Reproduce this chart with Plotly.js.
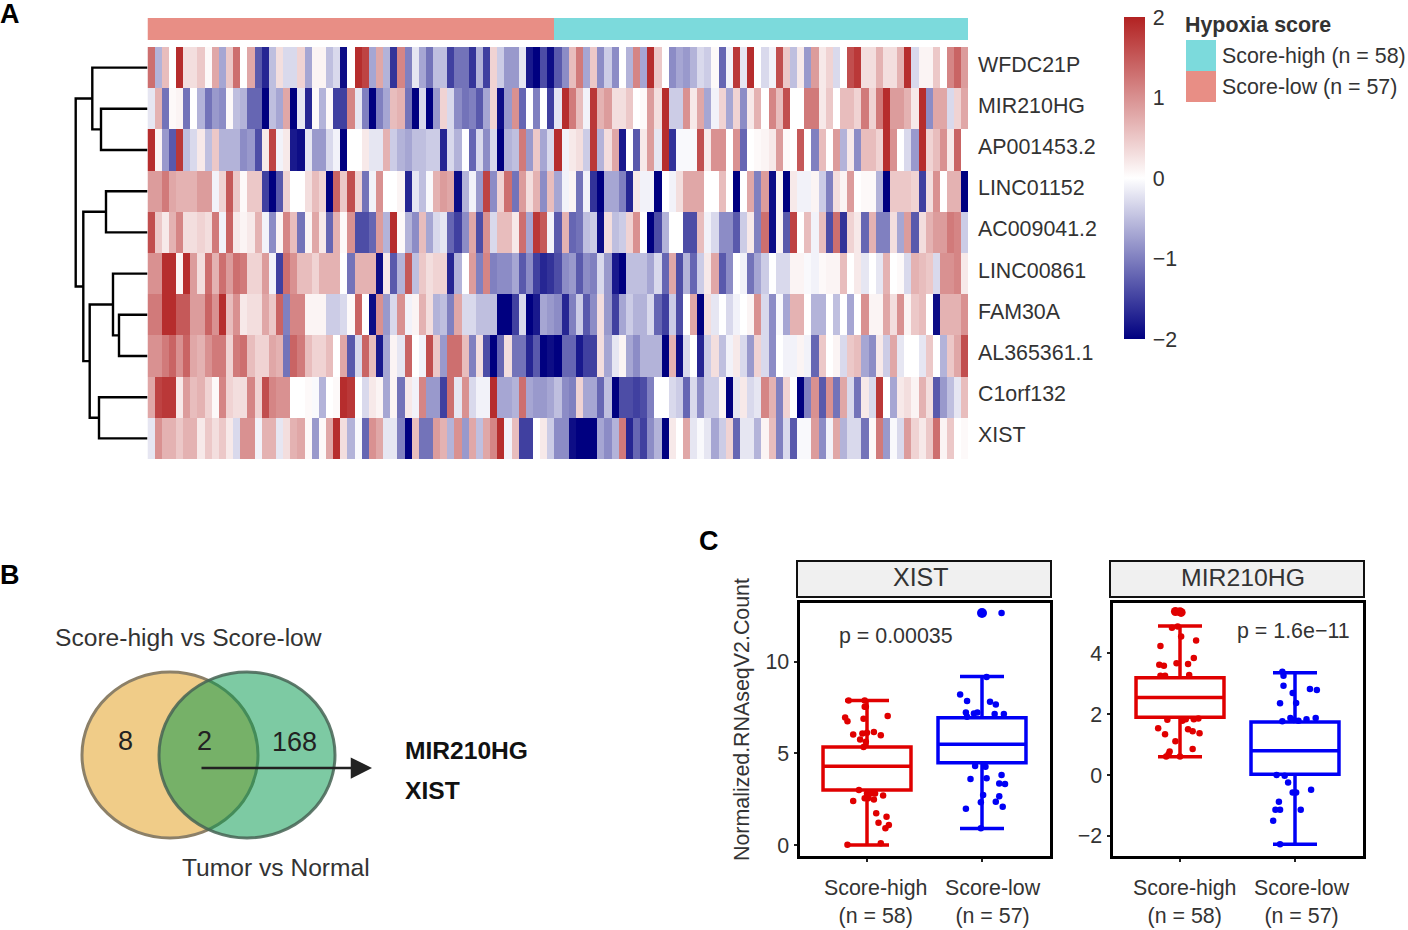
<!DOCTYPE html>
<html><head><meta charset="utf-8">
<script src="https://cdn.plot.ly/plotly-3.0.1.min.js"></script>
<style>html,body{margin:0;padding:0;background:#fff}#p{width:1408px;height:930px}</style>
</head><body><div id="p"></div>
<script>
const genes=["WFDC21P","MIR210HG","AP001453.2","LINC01152","AC009041.2","LINC00861","FAM30A","AL365361.1","C1orf132","XIST"];
const WFDC21P=[1.3,-.6,.6,0,1.9,.3,.3,.5,.05,.8,-.7,.5,1.3,0,.8,-1.3,-1.7,-.5,.3,-.3,-.3,.4,-.7,.1,.1,-.5,-.3,-1.9,0,1.9,1.7,-.7,.8,-.6,-1.6,1.1,-1,-.2,-.7,-1.1,-.5,-.5,-1.5,-1.1,-1.1,-1.6,-.6,-1.5,.4,-.4,-.8,-.8,-.2,-1.8,-2,-1.4,-1.9,
-1.3,-.9,.6,1.2,-.7,.5,-.9,-.4,-.9,0,-.6,1.1,-.7,1.9,.5,0,-.9,-.7,-.8,-.6,-.3,-.4,.05,-1.2,-.1,1.8,-.2,1.9,0,-.3,-.1,1.6,.5,-.5,.2,-.8,.9,.2,.4,-.3,0,1.6,1.8,.3,.3,.7,.3,.3,.7,1.9,-.3,.1,.1,.5,0,1.1,1.4,.9];
const MIR210HG=[-.2,.7,-1.1,.05,.1,-1.1,0,-.6,-1.1,-.8,-.9,.05,-.5,-.6,-1.2,-1.2,-2,-.5,-.7,.8,-2,-.2,-1.7,.05,-.6,.05,-1.5,-1.5,1.1,-.2,-1,-2,-1,-.7,.6,.7,-1.1,-2,-.3,-2,-.8,.4,-.3,-.9,-1.1,-1,-1.3,-.7,.4,-1.9,-.8,1,-1.2,0,-1,0,-1.5,
-.2,1.9,1.2,.6,-.1,1.8,.7,.9,.3,.3,.5,0,.05,.9,.3,1.9,-.4,-.4,1,.2,.8,-.7,-.1,.4,-.7,.4,-.9,.2,.7,0,1.1,.6,1.6,0,0,1.2,1.2,.2,.5,0,.6,.6,.4,1.2,.4,1.2,1.9,.9,.9,.7,.2,1.9,-.9,.8,.8,-.3,.4,.8];
const AP001453_2=[1.9,.1,-.8,-1.3,1.8,-.5,-.3,.2,-.5,.5,-.6,-.6,-.6,-.9,-.8,-1.4,.2,1.7,-.1,.2,-1.8,-1.9,-.2,-.8,-.8,-.3,-.1,-2,0,0,.2,-.2,-.2,.7,-.4,-.6,-.7,-.5,-.5,-.4,-.4,-1.7,-.3,-.6,0,-1.2,-.3,-.9,-.3,-2,-.6,-.5,1.2,-.8,.5,-.7,-.3,
1.9,-.1,.2,.3,-.4,1.8,-.6,.3,.8,-1.8,0,-1.3,.2,.9,-.2,1.9,-1.6,-.05,-.05,-.05,1.6,.2,1,1,0,1,-1.2,0,.05,.1,.2,.9,.05,0,1.5,0,-1,.6,0,.9,-.6,.2,-.9,.6,.6,.4,1.9,1,0,-.3,-.8,1.9,.4,.6,1,.2,1.4];
const LINC01152=[.9,.9,1.2,.8,.7,.7,.7,.9,.9,-.1,.4,1.5,.5,.05,.5,.5,-1.5,-2,-1.3,.4,0,0,.3,.6,.4,-2,1.4,.5,1.6,.4,-1.1,-.1,1,0,0,.1,-1.7,-.2,-.5,-.05,.7,.9,.8,-1.9,-.6,-.1,-.8,1.7,-.9,.4,1.3,-1.1,.9,.3,.7,-.9,.6,
-.7,-.1,.1,-1.1,-.1,-1.6,-2,-.7,-.7,-1,-1.7,.2,-.1,-.1,-2,0,-.1,.3,.8,.8,.8,0,0,.6,0,-2,0,.8,-1,.9,-1.9,.1,-2,.2,-.1,-.1,.1,-.4,-1,.3,.1,.9,0,.05,.05,-.6,-2,.5,.5,.5,.4,-1.5,.3,1,0,.7,.7,-2];
const AC009041_2=[1.6,.5,.2,.7,1.1,.3,.3,.4,.3,1.2,-.1,1.4,.2,.1,.2,.7,-.1,-.9,.1,1.1,.6,-1.1,.1,.8,.2,-1.2,.7,.05,1,-1.4,-1.4,-1.2,.9,-.6,1.9,.05,-.6,-.9,.6,-.7,-.3,-.2,-1.2,-1.5,-.9,.8,-1.4,1,-.3,.6,.6,.2,1.3,-.7,1.8,1.5,-.1,
-1.3,.7,-1.2,-1.1,-.5,-.4,-1.9,.3,-.5,-.4,.4,1,0,-2,-1.4,-.6,0,0,-1.4,-1.4,.6,-.1,-.3,-.9,-.9,-1.3,-.4,.2,-1,1.3,-1.9,.1,-1.3,1.7,0,.6,-.1,.6,-1.4,1.3,-1.6,.4,.2,-1.2,.7,-1,-1,.3,-.7,.9,-1.3,.3,.7,.9,.9,1.2,1.1,-.4];
const LINC00861=[1,1,1.9,1.9,.1,1.9,.9,.3,1.3,.7,1.3,.9,1.3,1.2,.4,.4,.9,-.1,-1.5,1.3,1,.6,.6,.4,.7,.7,.7,0,-1.1,.7,.7,.7,-1.9,.2,-1.3,-.6,1.5,-.5,.5,.3,.4,.4,-1.7,-.6,0,.9,-1,1.1,-1,-.9,-.9,-.7,-1.3,-.9,-1.5,-1.7,-1.6,
-1.4,-.9,-.8,-1.3,-.9,-1,-.3,-.8,-1.8,-2,-.5,-.5,-.5,-.7,-.3,-1.2,.8,-1.4,-.6,-1.2,-.4,.2,.8,-1.3,-.9,0,-.1,-1.1,-.7,-.4,0,-.3,-.3,.1,.1,-.05,-.1,.05,.1,.1,.6,0,.2,-.2,0,-.2,.7,0,.05,-.3,.7,.6,.5,-.3,1,1,1.1,.2];
const FAM30A=[1.2,1.2,1.9,1.9,1.5,1.5,.9,.9,1.4,1,1.9,.6,1,.2,.3,.3,.8,.5,1.4,-1,1.1,1.1,.1,.1,.1,-.4,-.4,-.3,.05,1.4,0,-1.9,1,-.8,-.3,1,-.1,.1,.7,.3,-.6,-.5,-1,.8,-.3,-.3,-.5,-.5,-.5,-2,-2,-1.5,-.3,-2,-1.8,-.7,-.8,
-.9,-1.7,-1,-.4,-1.3,-.9,.3,-.8,-1.5,-.7,-.4,-.6,-.6,-.3,-1.2,-1.5,-.4,-1.4,0,.8,-2,.3,-.2,0,-.3,-.1,0,.1,1,-.3,-.9,-.05,-.7,.7,.7,0,-.6,-.6,0,-.5,0,-.7,0,1,.1,.1,.8,.3,1,.1,.5,.6,0,-1.9,.7,.7,.7,1];
const AL365361_1=[1,1,1.2,1.4,1,1.4,.8,.7,1,1.2,1.2,.4,1.2,1.3,.6,.4,.4,.8,.7,-1.1,1.4,1.2,.6,.4,.4,.6,0,.8,-1.3,-.3,1.4,.6,-1.8,-.7,.1,-.2,1.4,0,-.1,1.6,.5,-.8,1.3,1.3,.6,-1,.3,-1.4,-2,-1.2,.3,-1.1,-1.1,-1.7,-1.3,-2,-1.9,
-2,-1.2,-1.2,-1.8,-1.5,-1.5,.3,-.7,-.2,.1,-.7,-.9,-.6,-.6,-.6,-2,.7,-1.9,-.3,0,-1.7,-.4,.3,-.5,-.1,.2,-.3,-.8,.4,-.3,-.9,0,-.1,-.1,.1,-.1,-1.2,.5,0,.1,-.3,.5,.6,-.7,-.9,.2,-.4,.8,-.2,0,0,-.2,.5,0,-.6,.5,.8,1.6];
const C1orf132=[.8,1.7,1.8,1.8,.2,.9,.6,.7,.4,.05,1.1,.4,.3,.3,1.1,.4,1.6,1.1,1,1,0,0,.05,-.05,-.6,0,.05,1.9,1.8,0,-.3,.2,.1,-.7,.1,-1.1,.2,-.1,1.1,-.8,-.8,-1.5,1.3,-.2,1,-.3,-.1,-.1,1.9,-.7,-.7,-.6,1.3,-.7,-.8,-.8,-.7,
-.5,-.9,-1,.4,-.7,-.7,-1.2,-.5,-2,-1.4,-1.4,-1.5,-1.4,-1,0,0,-.3,-.4,-1.2,-.3,-.9,-.4,-.4,.1,-2,-.2,.2,-.3,-.2,1.1,.7,-1,.4,0,-2,-1,1,-1.3,1,-1.1,.8,-.3,-1.1,.2,-.3,1.8,0,-.7,.2,.3,.1,.7,.3,-1.3,-.8,-.5,-.2,.6];
const XIST_row=[-.2,1,.7,.7,.5,.7,.7,.2,.5,.3,.5,.2,-.3,1,1,-.1,.7,.7,-.2,.3,.7,.8,.05,-.8,.05,.8,1.9,.3,-.6,-.05,-1.2,1,.8,-.2,-.2,-1,-2,.6,-1.1,-1.1,.9,.7,-.6,1,-.8,.8,-.5,.8,1.1,1.9,-.1,.6,-1.5,-1.5,0,.2,-.4,
-.9,-.9,-1.9,-2,-2,-2,-.7,-.9,-.6,1.2,-1.7,-1.2,-1.5,-.9,-.6,-2,.2,0,.8,-.2,-.05,-.2,-.7,-.4,.4,-1.2,-.2,-.2,-.6,.1,.6,-1,-.3,-1.3,-.05,-.05,.9,-.9,-.1,.8,-.6,-.3,-.3,-1.1,.05,1.2,-.8,-.05,-.3,.9,.4,.2,.5,1.3,.1,.5,0,.05];
const cbTicks=[-2,-1,0,1,2];
const cbLabels=["−2","−1","0","1","2"];
const groupLow=57, groupHigh=58;
const dendroA=[1,0,3,6,5,8,14,12,11];
const dendroB=[2,10,4,7,13,9,15,16,17];
const dendroH=[46.5,55.2,41.5,28.5,34.5,48.5,57.8,64.2,71.8];

const xistHighBox={lo:0,q1:3.0,med:4.3,q3:5.35,up:7.9};
const xistLowBox={lo:.9,q1:4.5,med:5.5,q3:6.95,up:9.2};
const mirHighBox={lo:.6,q1:1.9,med:2.55,q3:3.2,up:4.9};
const mirLowBox={lo:-2.27,q1:.03,med:.8,q3:1.75,up:3.37};

const xistHighX=[.84,.98,.98,.99,.81,.83,.97,1.18,.88,.96,1,1.06,1.12,.94,.99,.97,.93,1,1.03,1.07,1.14,.98,1.01,1.06,.88,1.08,1.17,1.1,1.19,1.16,.83,1.12];
const xistHighY=[7.9,7.9,7.55,7.55,6.96,6.76,6.9,7.05,6.04,6.09,6.13,6.18,6,5.76,5.64,5.36,3,2.82,2.82,2.82,2.71,2.55,2.55,2.49,2.4,1.73,1.55,1.22,1.09,.91,.02,.09];
const xistLowX=[1.81,1.87,2.07,2.12,2.04,1.86,1.93,1.96,2.11,2.19,1.87,2.17,1.94,2.03,2.17,1.9,2.04,2.15,2.2,2.01,2.15,2.12,1.99,2.18,1.86,1.99];
const xistLowY=[8.22,7.87,7.82,7.67,9.18,7.24,7.18,7.24,7.15,7.15,7,12.67,4.31,4.27,3.82,3.6,3.65,3.36,3.33,2.73,2.67,2.36,2.33,2.09,1.98,.91];
const xistLowBigX=[2.0], xistLowBigY=[12.67];
const mirHighX=[.93,.98,1.01,1.14,.83,1.12,1.07,.97,.82,.86,.83,.87,1.08,.89,1.02,1.05,1.12,1.16,.81,1.07,1.11,1.17,.87,.96,1.11,.91,.9,.88,1];
const mirHighY=[4.85,4.89,4.56,4.43,4.25,3.85,3.65,3.68,3.63,3.6,3.27,3.27,3.29,1.82,1.79,1.84,1.84,1.86,1.54,1.51,1.44,1.38,1.34,1.11,.86,.78,.69,.61,.61];
const mirHighBigX=[.96,1.0,1.01], mirHighBigY=[5.38,5.37,5.35];
const mirLowX=[1.89,1.9,1.9,2.13,2.19,1.98,2.01,1.87,1.96,1.89,1.99,2.03,2.1,2.18,1.84,1.91,1.94,2.14,1.98,2.01,1.86,2.05,1.87,1.83,1.81,1.87];
const mirLowY=[3.4,3.27,2.94,2.83,2.8,2.7,2.37,2.36,1.88,1.77,1.81,1.79,1.84,1.88,0,-.02,-.24,-.48,-.57,-.57,-.88,-1.14,-1.14,-1.14,-1.5,-2.27];
const boxLabels=["Score-high<br>(n = 58)","Score-low<br>(n = 57)"];

const W=1408,H=930;
const px=x=>x/W, py=y=>1-y/H;
const FONT='"Liberation Sans", Arial, sans-serif';
const TXT='#333333', RED='#E00000', BLUE='#0000F5';
const FS=21.4;

const matrix=[WFDC21P,MIR210HG,AP001453_2,LINC01152,AC009041_2,LINC00861,FAM30A,AL365361_1,C1orf132,XIST_row];
const cols=matrix[0].map((_,i)=>i);
const groups=Array(groupLow).fill(0).concat(Array(groupHigh).fill(1));

const pos=genes.map((_,i)=>i), hgt=genes.map(()=>0);
const dx=[],dy=[];
dendroA.forEach((a,i)=>{const b=dendroB[i],h=dendroH[i];
  dx.push(hgt[a],h,h,hgt[b],null);dy.push(pos[a],pos[a],pos[b],pos[b],null);
  pos.push((pos[a]+pos[b])/2);hgt.push(h);});

function box(b,x,col,xa,ya){return {type:'box',x:[x],q1:[b.q1],median:[b.med],q3:[b.q3],lowerfence:[b.lo],upperfence:[b.up],
  width:.765,whiskerwidth:.5,boxpoints:false,fillcolor:'rgba(255,255,255,0)',line:{color:col,width:3.5},xaxis:xa,yaxis:ya,hoverinfo:'skip'};}
function pts(x,y,col,size,xa,ya){return {type:'scatter',mode:'markers',x:x,y:y,marker:{color:col,size:size,line:{width:0}},xaxis:xa,yaxis:ya,hoverinfo:'skip'};}

const traces=[
 {type:'heatmap',z:matrix,x:cols,y:genes.map((_,i)=>i),zmin:-2,zmax:2,xgap:0,ygap:0,
  colorscale:[[0,'#000080'],[.5,'#FFFFFF'],[1,'#B22222']],
  colorbar:{x:px(1124),xanchor:'left',y:py(17),yanchor:'top',lenmode:'pixels',len:322,thicknessmode:'pixels',thickness:21,
    xpad:0,ypad:0,outlinewidth:0,borderwidth:0,tickmode:'array',tickvals:cbTicks,ticktext:cbLabels,ticks:'outside',ticklen:4,tickcolor:'rgba(0,0,0,0)',tickfont:{family:FONT,size:FS,color:TXT}},
  xaxis:'x',yaxis:'y',hoverinfo:'skip'},
 {type:'heatmap',z:[groups],x:cols,y:[0],zmin:0,zmax:1,showscale:false,
  colorscale:[[0,'#E88E85'],[1,'#7CDADC']],xaxis:'x',yaxis:'y2',hoverinfo:'skip'},
 {type:'scatter',mode:'lines',x:dx,y:dy,line:{color:'#000',width:2.4},xaxis:'x2',yaxis:'y',hoverinfo:'skip'},
 pts(xistHighX,xistHighY,RED,6.5,'x3','y3'),
 pts(xistLowX,xistLowY,BLUE,6.5,'x3','y3'),
 pts(xistLowBigX,xistLowBigY,BLUE,10,'x3','y3'),
 box(xistHighBox,1,RED,'x3','y3'),box(xistLowBox,2,BLUE,'x3','y3'),
 pts(mirHighX,mirHighY,RED,6.5,'x4','y4'),
 pts(mirHighBigX,mirHighBigY,RED,9,'x4','y4'),
 pts(mirLowX,mirLowY,BLUE,6.5,'x4','y4'),
 box(mirHighBox,1,RED,'x4','y4'),box(mirLowBox,2,BLUE,'x4','y4')
];

function panelX(l,r,an){return {domain:[px(l),px(r)],range:[.413,2.587],anchor:an,tickmode:'array',tickvals:[1,2],showticklabels:false,ticks:'outside',ticklen:3,tickwidth:2,tickcolor:'#222',
  showgrid:false,zeroline:false,showline:true,mirror:true,linecolor:'#000',linewidth:3};}
function panelY(range,vals,an){return {domain:[py(856),py(603)],range:range,anchor:an,tickmode:'array',tickvals:vals,ticks:'outside',ticklen:3,tickwidth:2,tickcolor:'#222',
  tickfont:{family:FONT,size:FS,color:TXT},showgrid:false,zeroline:false,showline:true,mirror:true,linecolor:'#000',linewidth:3};}

const ann=[];
function T(x,y,text,o){const c=o&&o.xanchor==='center';ann.push(Object.assign({xref:'paper',yref:'paper',x:px(c?x:x-2),y:py(y),text:text,showarrow:false,xanchor:'left',yanchor:'middle',
  font:{family:FONT,size:FS,color:TXT}},o||{}));}
T(0,14,'<b>A</b>',{font:{family:FONT,size:27,color:'#000'}});
T(0,575,'<b>B</b>',{font:{family:FONT,size:27,color:'#000'}});
T(699,541,'<b>C</b>',{font:{family:FONT,size:27,color:'#000'}});
T(1185,25,'<b>Hypoxia score</b>');
T(1222,56,'Score-high (n = 58)');
T(1222,87,'Score-low (n = 57)');
T(55,637,'Score-high vs Score-low',{font:{family:FONT,size:24.6,color:TXT}});
T(182,867,'Tumor vs Normal',{font:{family:FONT,size:24.6,color:TXT}});
T(125,741,'8',{xanchor:'center',font:{family:FONT,size:27,color:'#222'}});
T(204,741,'2',{xanchor:'center',font:{family:FONT,size:27,color:'#222'}});
T(294,742,'168',{xanchor:'center',font:{family:FONT,size:27,color:'#222'}});
T(405,750,'<b>MIR210HG</b>',{font:{family:FONT,size:24.6,color:'#111'}});
T(405,790,'<b>XIST</b>',{font:{family:FONT,size:24.6,color:'#111'}});
T(742,720,'Normalized.RNAseqV2.Count',{xanchor:'center',textangle:-90});
T(921,577,'XIST',{xanchor:'center',font:{family:FONT,size:25,color:TXT}});
T(1243,577,'MIR210HG',{xanchor:'center',font:{family:FONT,size:24.8,color:TXT}});
T(839,636,'p = 0.00035');
T(1237,631,'p = 1.6e−11');
[[875,boxLabels[0]],[993,boxLabels[1]],[1184,boxLabels[0]],[1302,boxLabels[1]]].forEach(([x,t])=>T(x,902,t,{xanchor:'center',align:'center'}));
genes.forEach((g,i)=>ann.push({xref:'paper',yref:'y',x:px(976),y:i,yshift:3,text:g,showarrow:false,xanchor:'left',yanchor:'middle',font:{family:FONT,size:FS,color:TXT}}));
ann.push({xref:'paper',yref:'paper',x:px(372),y:py(768),axref:'pixel',ayref:'pixel',ax:-172,ay:0,text:'',showarrow:true,arrowhead:2,arrowsize:1.7,arrowwidth:2.5,arrowcolor:'#222'});

function rect(x0,y0,x1,y1,fill,line,lw){return {type:'rect',xref:'paper',yref:'paper',x0:px(x0),x1:px(x1),y0:py(y0),y1:py(y1),fillcolor:fill,line:{color:line||fill,width:lw||0},layer:'below'};}
function ell(x0,y0,x1,y1,fill,line){return {type:'circle',xref:'paper',yref:'paper',x0:px(x0),x1:px(x1),y0:py(y0),y1:py(y1),fillcolor:fill,line:{color:line,width:3},layer:'below'};}
const shapes=[
 rect(1186,40,1216,71,'#7CDADC'),rect(1186,71,1216,102,'#E88E85'),
 rect(797,561,1051,597,'#F0F0F0','#111',2),rect(1110,561,1364,597,'#F0F0F0','#111',2),
 ell(82,672,258,838,'#F0CC88','#8C8068'),
 ell(159,672,335,838,'rgba(0,151,75,.51)','rgba(70,100,85,.85)')
];

const layout={width:W,height:H,margin:{l:0,r:0,t:0,b:0},paper_bgcolor:'#fff',plot_bgcolor:'rgba(0,0,0,0)',showlegend:false,font:{family:FONT,color:TXT},
 xaxis:{domain:[px(147.5),px(968)],range:[-.5,114.5],visible:false,anchor:'y'},
 yaxis:{domain:[py(459),py(47)],range:[9.5,-.5],anchor:'x',showticklabels:false,ticks:'',showgrid:false,zeroline:false,showline:false},
 yaxis2:{domain:[py(40),py(18)],range:[-.5,.5],visible:false,anchor:'x'},
 xaxis2:{domain:[0,px(147.5)],range:[147.5,0],visible:false,anchor:'y'},
 xaxis3:panelX(799.5,1049.5,'y3'),yaxis3:panelY([-.6,13.22],[0,5,10],'x3'),
 xaxis4:panelX(1112.5,1362.5,'y4'),yaxis4:panelY([-2.66,5.66],[-2,0,2,4],'x4'),
 annotations:ann,shapes:shapes};
Plotly.newPlot('p',traces,layout,{staticPlot:true,displayModeBar:false});
</script></body></html>
